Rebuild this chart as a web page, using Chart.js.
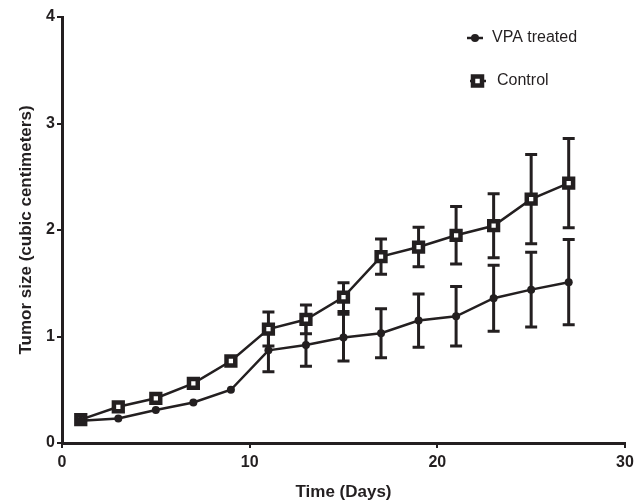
<!DOCTYPE html>
<html>
<head>
<meta charset="utf-8">
<script src="https://cdn.jsdelivr.net/npm/chart.js@4.4.0/dist/chart.umd.min.js"></script>
<style>
    body { margin: 0; background: #fff; }
    #wrap { width: 641px; height: 503px; }
</style>
</head>
<body>
<div id="wrap"><canvas id="graph" width="641" height="503"></canvas></div>
<script>
"use strict"

// *** DATI *** //
const days = [1, 3, 5, 7, 9, 11, 13, 15, 17, 19, 21, 23, 25, 27];
const vpaTreated = [0.21, 0.23, 0.31, 0.38, 0.50, 0.87, 0.92, 0.99, 1.03, 1.15, 1.19, 1.36, 1.44, 1.51];
const vpaError = [0, 0, 0, 0, 0, 0.20, 0.20, 0.22, 0.23, 0.25, 0.28, 0.31, 0.35, 0.40];
const control = [0.22, 0.34, 0.42, 0.56, 0.77, 1.07, 1.16, 1.37, 1.75, 1.84, 1.95, 2.04, 2.29, 2.44];
const controlError = [0, 0, 0, 0, 0, 0.16, 0.135, 0.135, 0.165, 0.185, 0.27, 0.30, 0.42, 0.42];
const seriesNames = ["VPA treated", "Control"];
const xTicks = [0, 10, 20, 30];
const yTicks = [0, 1, 2, 3, 4];

const ink = "#231f20";
const font = "'Liberation Sans', Arial, sans-serif";

function toPoints (values) {
    let pts = [];
    for (let i = 0; i < days.length; i++)
        pts.push({ x: days[i], y: values[i] });
    return pts;
}

// barre d'errore disegnate con le scale del grafico
const errorBars = {
    id: "errorBars",
    beforeDatasetsDraw (chart) {
        let ctx = chart.ctx;
        let yScale = chart.scales.y;
        ctx.save();
        ctx.strokeStyle = ink;
        ctx.lineWidth = 3;
        chart.data.datasets.forEach(function (ds, i) {
            let meta = chart.getDatasetMeta(i);
            meta.data.forEach(function (pt, j) {
                let err = ds.errors[j];
                if (!err)
                    return;
                let v = ds.data[j].y;
                let top = yScale.getPixelForValue(v + err);
                let bottom = yScale.getPixelForValue(v - err);
                ctx.beginPath();
                ctx.moveTo(pt.x, top);
                ctx.lineTo(pt.x, bottom);
                ctx.moveTo(pt.x - 6, top);
                ctx.lineTo(pt.x + 6, top);
                ctx.moveTo(pt.x - 6, bottom);
                ctx.lineTo(pt.x + 6, bottom);
                ctx.stroke();
            });
        });
        ctx.restore();
    }
};

// legenda in alto a destra
const sideLegend = {
    id: "sideLegend",
    afterDraw (chart) {
        let ctx = chart.ctx;
        let x0 = chart.chartArea.right - 158;
        let rows = [38, 81];
        ctx.save();
        ctx.strokeStyle = ink;
        ctx.fillStyle = ink;
        ctx.lineWidth = 2.5;

        // VPA treated
        ctx.beginPath();
        ctx.moveTo(x0, rows[0]);
        ctx.lineTo(x0 + 16, rows[0]);
        ctx.stroke();
        ctx.beginPath();
        ctx.arc(x0 + 8, rows[0], 4, 0, Math.PI * 2);
        ctx.fill();

        // Control
        ctx.beginPath();
        ctx.moveTo(x0 + 3, rows[1]);
        ctx.lineTo(x0 + 19, rows[1]);
        ctx.stroke();
        ctx.lineWidth = 4.5;
        ctx.fillStyle = "#fff";
        ctx.fillRect(x0 + 6, rows[1] - 4.5, 9, 9);
        ctx.strokeRect(x0 + 6, rows[1] - 4.5, 9, 9);

        ctx.fillStyle = ink;
        ctx.font = "16px " + font;
        ctx.textBaseline = "middle";
        ctx.fillText(seriesNames[0], x0 + 25, rows[0]);
        ctx.fillText(seriesNames[1], x0 + 30, rows[1]);
        ctx.restore();
    }
};

let chart = new Chart(document.getElementById("graph"), {
    type: "line",
    data: {
        datasets: [
            {
                label: seriesNames[0],
                data: toPoints(vpaTreated),
                errors: vpaError,
                borderColor: ink,
                backgroundColor: ink,
                borderWidth: 2.5,
                pointStyle: "circle",
                pointRadius: 4,
                pointBorderWidth: 0,
                pointBackgroundColor: ink,
                tension: 0
            },
            {
                label: seriesNames[1],
                data: toPoints(control),
                errors: controlError,
                borderColor: ink,
                backgroundColor: "#fff",
                borderWidth: 2.5,
                pointStyle: "rect",
                pointRadius: 6.2,
                pointBorderWidth: 4.5,
                pointBorderColor: ink,
                pointBackgroundColor: "#fff",
                tension: 0
            }
        ]
    },
    options: {
        responsive: false,
        animation: false,
        layout: { padding: { left: 0, top: 17, right: 16, bottom: 0 } },
        plugins: {
            legend: { display: false },
            tooltip: { enabled: false }
        },
        scales: {
            x: {
                type: "linear",
                min: 0,
                max: 30,
                afterBuildTicks: function (scale) {
                    scale.ticks = xTicks.map(v => ({ value: v }));
                },
                afterFit: function (scale) { scale.height = 60; },
                grid: { drawOnChartArea: false, drawTicks: true, tickLength: 5, color: ink, lineWidth: 2 },
                border: { color: ink, width: 3 },
                ticks: { color: ink, padding: 5, font: { family: font, size: 16, weight: "bold" } },
                title: {
                    display: true,
                    text: "Time (Days)",
                    color: ink,
                    padding: { top: 0, bottom: 0 },
                    font: { family: font, size: 17, weight: "bold" }
                }
            },
            y: {
                type: "linear",
                min: 0,
                max: 4,
                afterBuildTicks: function (scale) {
                    scale.ticks = yTicks.map(v => ({ value: v }));
                },
                afterFit: function (scale) { scale.width = 62; },
                grid: { drawOnChartArea: false, drawTicks: true, tickLength: 5, color: ink, lineWidth: 2 },
                border: { color: ink, width: 3 },
                ticks: { color: ink, padding: 2, font: { family: font, size: 16, weight: "bold" } },
                title: {
                    display: true,
                    text: "Tumor size (cubic centimeters)",
                    color: ink,
                    padding: { top: 16, bottom: 0 },
                    font: { family: font, size: 17, weight: "bold" }
                }
            }
        }
    },
    plugins: [errorBars, sideLegend]
});
</script>
</body>
</html>
